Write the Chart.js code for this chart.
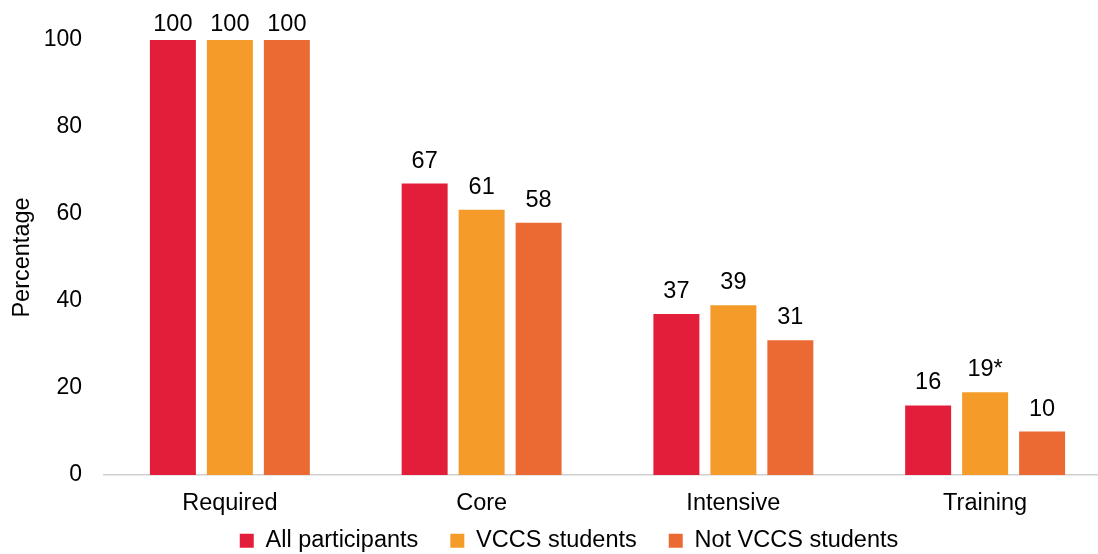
<!DOCTYPE html>
<html>
<head>
<meta charset="utf-8">
<script src="https://cdn.jsdelivr.net/npm/chart.js@4.4.1/dist/chart.umd.min.js"></script>
<style>
  html, body { margin: 0; padding: 0; background: #fff; overflow: hidden; }
  #wrap { position: relative; width: 1138px; height: 554px; }
</style>
</head>
<body>
<div id="wrap"><canvas id="c"></canvas></div>
<script>
'use strict';

const categories = ['Required', 'Core', 'Intensive', 'Training'];
const allParticipants = [100, 67, 37, 16];
const vccsStudents = [100, 61, 39, 19];
const notVccsStudents = [100, 58, 31, 10];
// VCCS training value carries a footnote marker
const vccsLabels = ['100', '61', '39', '19*'];
const yTicks = [0, 20, 40, 60, 80, 100];

const FONT = '"Liberation Sans", Arial, Helvetica, sans-serif';
const FS_TICK = 23;    // y ticks
const FS = 23.5;       // value labels, categories, axis title, legend
const LEGEND_PAD = 32;

// value labels above each bar; kept inside the canvas for the full-height bars
const barLabelPlugin = {
  id: 'barLabelPlugin',
  afterDatasetsDraw(chart) {
    const { ctx } = chart;
    ctx.save();
    ctx.font = `${FS}px ${FONT}`;
    ctx.fillStyle = '#000000';
    ctx.textAlign = 'center';
    ctx.textBaseline = 'alphabetic';
    chart.data.datasets.forEach((ds, di) => {
      const meta = chart.getDatasetMeta(di);
      meta.data.forEach((bar, i) => {
        const txt = ds.valueLabels ? ds.valueLabels[i] : String(ds.data[i]);
        ctx.fillText(txt, bar.x, Math.max(bar.y - 16, 31));
      });
    });
    ctx.restore();
  }
};

// small legend box in the layout, then stretch it over the full canvas width
// and pull it up a bit so the wide item padding doesn't push text off the bottom
const legendFitPlugin = {
  id: 'legendFitPlugin',
  beforeLayout(chart) {
    const lg = chart.legend;
    if (!lg || lg.$fixed) return;
    const fit = lg.fit;
    lg.fit = function () {
      fit.call(this);
      this.height = 35;
    };
    lg.$fixed = true;
  },
  afterLayout(chart) {
    const lg = chart.legend;
    if (!lg) return;
    lg.left = 0;
    lg.right = chart.width;
    lg.width = chart.width;
    lg.top = 497;
    lg.bottom = chart.height + 10;
    lg.height = lg.bottom - lg.top;
  }
};

const ctx = document.getElementById('c').getContext('2d');
new Chart(ctx, {
  type: 'bar',
  data: {
    labels: categories,
    datasets: [
      { label: 'All participants', data: allParticipants, backgroundColor: '#E31E3A' },
      { label: 'VCCS students', data: vccsStudents, backgroundColor: '#F59B2A', valueLabels: vccsLabels },
      { label: 'Not VCCS students', data: notVccsStudents, backgroundColor: '#EB6A33' }
    ]
  },
  options: {
    responsive: true,
    maintainAspectRatio: false,
    animation: false,
    layout: { padding: { top: 40, right: 27, left: 0, bottom: 0 } },
    datasets: {
      bar: { categoryPercentage: 0.679, barPercentage: 0.807 }
    },
    scales: {
      x: {
        afterFit: (s) => { s.height = 44; },
        grid: { display: false, drawTicks: false },
        border: { display: true, color: '#D0D0D0', width: 1.5 },
        ticks: { color: '#000', font: { family: FONT, size: FS }, padding: 14 }
      },
      y: {
        min: 0,
        max: 100,
        afterBuildTicks: (s) => { s.ticks = yTicks.map(v => ({ value: v })); },
        afterFit: (s) => { s.width = 104; },
        grid: { display: false, drawTicks: false },
        border: { display: false },
        ticks: { color: '#000', font: { family: FONT, size: FS_TICK }, padding: 22 },
        title: { display: true, text: 'Percentage', color: '#000', font: { family: FONT, size: FS }, padding: { top: 8, bottom: 0 } }
      }
    },
    plugins: {
      legend: {
        position: 'bottom',
        labels: {
          color: '#000',
          font: { family: FONT, size: FS },
          boxWidth: 14,
          boxHeight: 14,
          padding: LEGEND_PAD
        }
      },
      tooltip: { enabled: false }
    }
  },
  plugins: [barLabelPlugin, legendFitPlugin]
});
</script>
</body>
</html>
